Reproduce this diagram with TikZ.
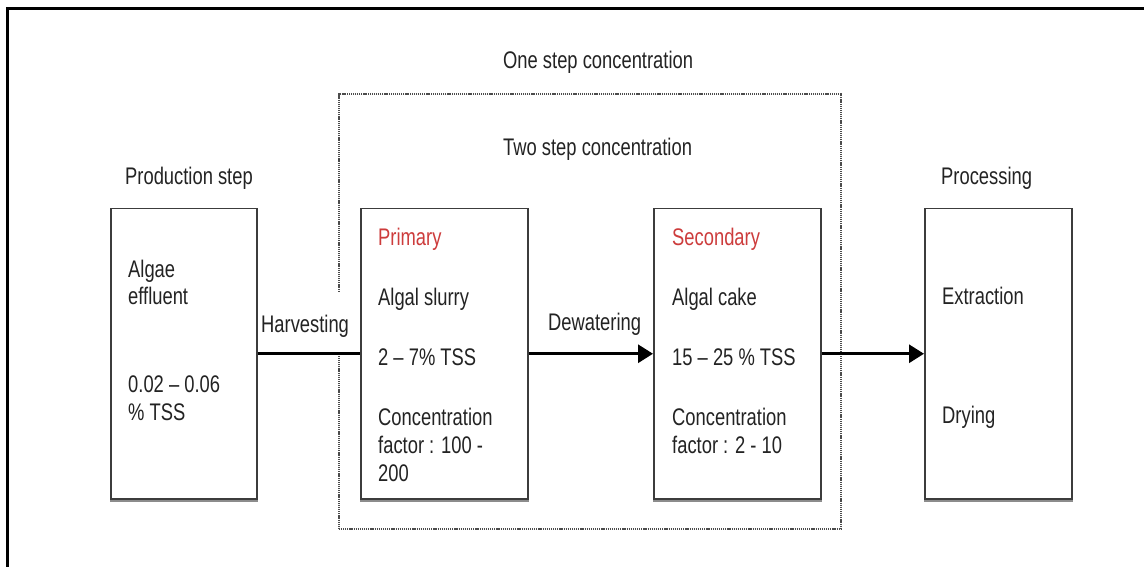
\documentclass[tikz,border=0pt]{standalone}
\usepackage{fontspec}
\setmainfont{Liberation Sans}[FakeStretch=0.765]
\usetikzlibrary{arrows.meta}
\definecolor{txt}{RGB}{35,35,35}
\definecolor{boxline}{RGB}{60,60,60}
\definecolor{redlbl}{RGB}{205,60,60}
\begin{document}
\begin{tikzpicture}[x=1pt,y=-1pt,
  lbl/.style={anchor=base west,inner sep=0pt,text=txt,font=\fontsize{24}{27}\selectfont},
  redl/.style={lbl,text=redlbl},
  stagebox/.style={draw=boxline,line width=1.5pt,anchor=north west,inner sep=0pt,minimum height=290pt},
  dotbox/.style={draw=black!70,line width=1.6pt,dash pattern=on 1.2pt off 0.9pt,anchor=north west,inner sep=0pt},
  gapfill/.style={fill=white,inner sep=0pt},
  conn/.style={draw=black,line width=3pt},
  arr/.style={conn,-{Triangle[length=15pt,width=18pt]}},
  shadowline/.style={draw=black!45,line width=1.5pt},
  frame/.style={draw=black,line width=3pt}]
\useasboundingbox (0,0) rectangle (1144,567);
\fill[white] (0,0) rectangle (1144,567);
% outer frame (only top and left edges visible)
\draw[frame] (7.5,567) -- (7.5,8.5) -- (1144,8.5);
% dotted region
\node[dotbox,minimum width=502pt,minimum height=435pt] (onestep) at (338,93) {};
% gap in the dotted line behind the Harvesting label
\node[gapfill,minimum width=8pt,minimum height=60pt] (harvgap) at (338,323) {};
% boxes
\node[stagebox,minimum width=146pt] (prod) at (110,208) {};
\node[stagebox,minimum width=167pt] (prim) at (360,208) {};
\node[stagebox,minimum width=167pt] (sec) at (653,208) {};
\node[stagebox,minimum width=147pt] (proc) at (924,208) {};
\foreach \b in {prod,prim,sec,proc}
  \draw[shadowline] ([yshift=-1.5pt]\b.south west) -- ([yshift=-1.5pt]\b.south east);
% connectors
\draw[conn] (prod.east) -- (prim.west);
\draw[arr] (prim.east) -- (sec.west);
\draw[arr] (sec.east) -- (proc.west);
% headings
\node[lbl] (tOne) at (503,69) {One step concentration};
\node[lbl] (tTwo) at (503,156) {Two step concentration};
\node[lbl] (tProd) at (125,185) {Production step};
\node[lbl] (tProc) at (941,185) {Processing};
% connector labels
\node[lbl] (tHarv) at (261,332) {Harvesting};
\node[lbl] (tDew) at (548,330) {Dewatering};
% production box
\node[lbl] (p1) at (128,277) {Algae};
\node[lbl] (p2) at (128,304) {effluent};
\node[lbl] (p3) at (128,392) {0.02 – 0.06};
\node[lbl] (p4) at (128,420) {\% TSS};
% primary box
\node[redl] (a0) at (378,245) {Primary};
\node[lbl] (a1) at (378,305) {Algal slurry};
\node[lbl] (a2) at (378,365) {2 – 7\% TSS};
\node[lbl] (a3) at (378,425) {Concentration};
\node[lbl] (a4) at (378,453) {factor : 100 -};
\node[lbl] (a5) at (378,481) {200};
% secondary box
\node[redl] (b0) at (672,245) {Secondary};
\node[lbl] (b1) at (672,305) {Algal cake};
\node[lbl] (b2) at (672,365) {15 – 25 \% TSS};
\node[lbl] (b3) at (672,425) {Concentration};
\node[lbl] (b4) at (672,453) {factor : 2 - 10};
% processing box
\node[lbl] (c1) at (942,304) {Extraction};
\node[lbl] (c2) at (942,423) {Drying};
\end{tikzpicture}
\end{document}
